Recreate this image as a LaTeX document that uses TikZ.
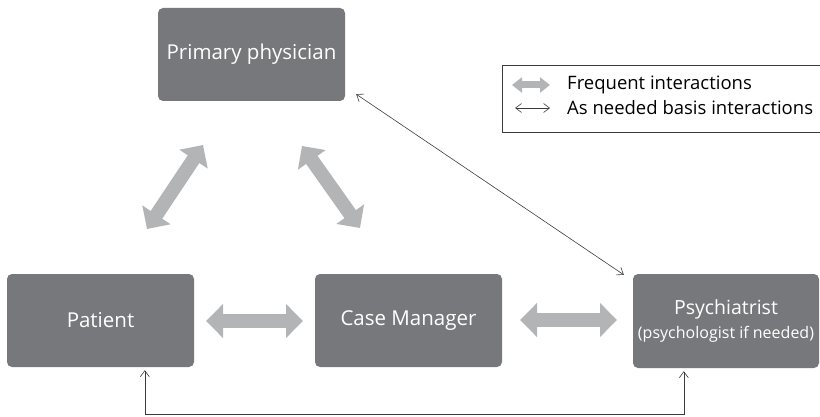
\documentclass[tikz,border=0pt]{standalone}
\usepackage{fontspec}
\setmainfont{Open Sans}
\usetikzlibrary{arrows.meta,calc}
\definecolor{boxgray}{HTML}{77787B}
\definecolor{arrowgray}{HTML}{B3B4B6}
\definecolor{linegray}{HTML}{3C3C3C}
\begin{document}
\begin{tikzpicture}[x=1pt,y=-1pt,
  role/.style={fill=boxgray, rounded corners=5pt, minimum width=187pt,
    minimum height=93pt, text=white, inner sep=0pt, align=center,
    font=\fontsize{20.5}{24}\selectfont},
  frequent/.style={draw=arrowgray, line width=14pt,
    {Triangle[width=33pt,length=17pt]}-{Triangle[width=33pt,length=17pt]}},
  frequentkey/.style={draw=arrowgray, line width=7pt,
    {Triangle[width=15pt,length=10pt]}-{Triangle[width=15pt,length=10pt]}},
  asneeded/.style={draw=linegray, line width=0.6pt,
    {Straight Barb[length=6pt,width=9pt]}-{Straight Barb[length=6pt,width=9pt]}},
  legendtext/.style={anchor=west, inner sep=0pt, font=\fontsize{18.5}{21}\selectfont}]
\useasboundingbox (0,0) rectangle (820,417);

% care team members
\node[role] (pp) at (251.5,54.5) {Primary physician};
\node[role] (pt) at (100.5,320.5) {Patient};
\node[role] (cm) at (408.5,320.5) {Case Manager};
\node[role, minimum width=186pt, minimum height=94pt,
  font=\fontsize{19.5}{22}\selectfont] (ps) at (726,321)
  {Psychiatrist\\[2pt]{\fontsize{16}{19}\selectfont (psychologist if needed)}};

% frequent interactions (thick block arrows)
\coordinate (f1a) at (206,321); \coordinate (f1b) at (303,321);
\coordinate (f2a) at (520,320); \coordinate (f2b) at (617,320);
\coordinate (f3a) at (147,229); \coordinate (f3b) at (203,145);
\coordinate (f4a) at (302,146); \coordinate (f4b) at (360,228);
\draw[frequent] (f1a) -- (f1b);
\draw[frequent] (f2a) -- (f2b);
\draw[frequent] (f3a) -- (f3b);
\draw[frequent] (f4a) -- (f4b);

% as-needed interactions (thin arrows)
\draw[asneeded] ($(pp.south east)+(11,-7)$) -- ($(ps.north west)+(-9,1)$);
\draw[asneeded] ($(pt.south west)+(138,3)$) -- ++(0,44) -| ($(ps.south west)+(51,3)$);

% legend
\draw[linegray, line width=0.8pt] (824,65) -- (502,65) -- (502,132) -- (824,132);
\node[legendtext] (lf) at (567,85) {Frequent interactions};
\node[legendtext] (ln) at (567,108) {As needed basis interactions};
\draw[frequentkey] ($(lf.west)+(-55,0)$) -- ($(lf.west)+(-17,0)$);
\draw[asneeded] ($(ln.west)+(-52,0)$) -- ($(ln.west)+(-17,0)$);
\end{tikzpicture}
\end{document}
